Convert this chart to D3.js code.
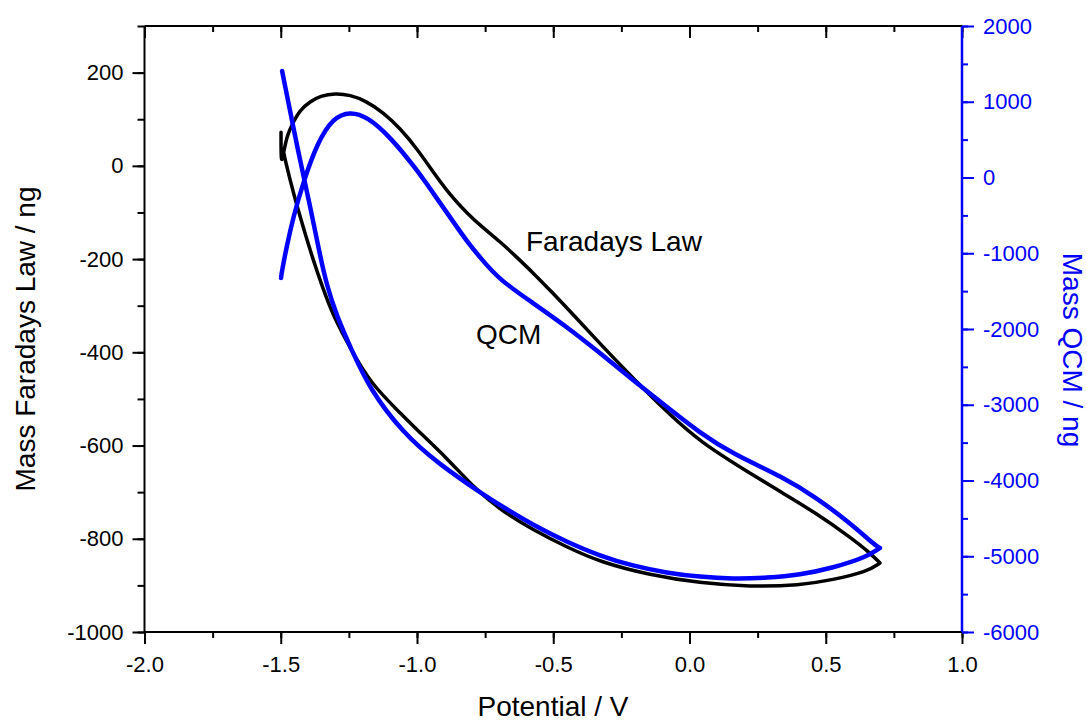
<!DOCTYPE html>
<html>
<head>
<meta charset="utf-8">
<script src="https://cdn.jsdelivr.net/npm/d3@7"></script>
<style>
  body { margin: 0; background: #fff; }
  svg { display: block; font-family: "Liberation Sans", Arial, sans-serif; }
</style>
</head>
<body>
<svg id="chart" width="1087" height="722"></svg>
<script>
// Faradays law mass (left axis), potential in V
const faradayV = [-1.499, -1.499, -1.499, -1.491, -1.477, -1.454, -1.429, -1.392, -1.355, -1.30, -1.245, -1.190,
  -1.124, -1.061, -0.999, -0.941, -0.879, -0.816, -0.758, -0.696, -0.634, -0.575, -0.513, -0.422,
  -0.328, -0.208, -0.083, 0.038, 0.221, 0.342, 0.467, 0.588, 0.662, 0.699, 0.699, 0.699,
  0.651, 0.526, 0.405, 0.222, 0.038, -0.145, -0.328, -0.450, -0.574, -0.684, -0.780, -0.890,
  -0.999, -1.050, -1.172, -1.245, -1.307, -1.348, -1.381, -1.418, -1.454, -1.484, -1.491];
const faradayMass = [72, 72, 2, 23, 66, 94, 120, 138, 150, 156, 152, 140,
  115, 80, 36, -13, -62, -102, -133, -162, -196, -229, -266, -322,
  -382, -455, -528, -592, -659, -702, -746, -796, -830, -852, -852, -852,
  -871, -888, -900, -903, -895, -878, -850, -818, -781, -742, -697, -627,
  -567, -537, -466, -391, -323, -258, -202, -131, -58, 13, 34];

// QCM mass (right axis)
const qcmV = [-1.499, -1.499, -1.495, -1.477, -1.454, -1.418, -1.366, -1.308, -1.245, -1.183, -1.099, -1.000,
  -0.941, -0.879, -0.816, -0.758, -0.696, -0.575, -0.450, -0.329, -0.208, -0.083, 0.038, 0.159,
  0.342, 0.467, 0.589, 0.688, 0.699, 0.699, 0.699,
  0.651, 0.526, 0.405, 0.284, 0.159, 0.038, -0.083, -0.208, -0.328, -0.450, -0.575, -0.696,
  -0.744, -0.926, -1.051, -1.172, -1.245, -1.293, -1.332, -1.360, -1.389, -1.430, -1.495, -1.495];
const qcmMass = [-1326, -1326, -1221, -891, -521, -70, 458, 790, 870, 802, 540, 100,
  -204, -521, -850, -1100, -1353, -1656, -1973, -2316, -2673, -3029, -3372, -3650,
  -3953, -4230, -4560, -4877, -4890, -4890, -4890,
  -5009, -5154, -5247, -5286, -5300, -5273, -5220, -5128, -4996, -4811, -4587, -4323,
  -4217, -3768, -3372, -2805, -2237, -1841, -1419, -957, -429, 231, 1406, 1406];

const xTicks = [-2.0, -1.5, -1.0, -0.5, 0.0, 0.5, 1.0];
const leftTicks = [-1000, -800, -600, -400, -200, 0, 200];
const rightTicks = [-6000, -5000, -4000, -3000, -2000, -1000, 0, 1000, 2000];

const BLUE = "#0000ff";
const plot = { left: 144.5, right: 962, top: 26, bottom: 632 };

const svg = d3.select("#chart");

const x = d3.scaleLinear().domain([-2, 1]).range([plot.left, plot.right]);
const yL = d3.scaleLinear().domain([-1000, 300]).range([plot.bottom, plot.top]);
const yR = d3.scaleLinear().domain([-6000, 2000]).range([plot.bottom, plot.top]);

// minor ticks every half step
const xMinor = d3.range(-2, 1.0001, 0.25);
const leftMinor = d3.range(-1000, 300.1, 100);
const rightMinor = d3.range(-6000, 2000.1, 500);

// plain hyphen instead of the unicode minus d3 uses
const hyphen = f => d => f(d).replace("\u2212", "-");

function styleAxis(g, color) {
  g.select(".domain").remove();
  g.selectAll("line").attr("stroke", color).attr("stroke-width", 2);
  g.selectAll("text").attr("fill", color).style("font-size", "22px");
}

// bottom axis
const gB = svg.append("g").attr("transform", `translate(0,${plot.bottom})`);
gB.append("g").call(d3.axisBottom(x).tickValues(xMinor).tickSize(6).tickFormat(""))
  .call(g => styleAxis(g, "#000"));
gB.append("g").call(d3.axisBottom(x).tickValues(xTicks).tickSize(12).tickPadding(12).tickFormat(hyphen(d3.format(".1f"))))
  .call(g => styleAxis(g, "#000"));

// top axis (inward ticks)
const gT = svg.append("g").attr("transform", `translate(0,${plot.top})`);
gT.append("g").call(d3.axisBottom(x).tickValues(xMinor).tickSize(6).tickFormat(""))
  .call(g => styleAxis(g, "#000"));
gT.append("g").call(d3.axisBottom(x).tickValues(xTicks).tickSize(12).tickFormat(""))
  .call(g => styleAxis(g, "#000"));

// left axis
const gL = svg.append("g").attr("transform", `translate(${plot.left},0)`);
gL.append("g").call(d3.axisLeft(yL).tickValues(leftMinor).tickSize(7).tickFormat(""))
  .call(g => styleAxis(g, "#000"));
gL.append("g").call(d3.axisLeft(yL).tickValues(leftTicks).tickSize(12).tickPadding(9).tickFormat(hyphen(d3.format("d"))))
  .call(g => styleAxis(g, "#000"));

// right axis
const gR = svg.append("g").attr("transform", `translate(${plot.right},0)`);
gR.append("g").call(d3.axisRight(yR).tickValues(rightMinor).tickSize(6).tickFormat(""))
  .call(g => styleAxis(g, BLUE));
gR.append("g").call(d3.axisRight(yR).tickValues(rightTicks).tickSize(12).tickPadding(9).tickFormat(hyphen(d3.format("d"))))
  .call(g => styleAxis(g, BLUE));

// frame lines
svg.append("line").attr("x1", plot.left).attr("x2", plot.right).attr("y1", plot.top).attr("y2", plot.top)
  .attr("stroke", "#000").attr("stroke-width", 2);
svg.append("line").attr("x1", plot.left).attr("x2", plot.right).attr("y1", plot.bottom).attr("y2", plot.bottom)
  .attr("stroke", "#000").attr("stroke-width", 2);
svg.append("line").attr("x1", plot.left).attr("x2", plot.left).attr("y1", plot.top).attr("y2", plot.bottom)
  .attr("stroke", "#000").attr("stroke-width", 2);
svg.append("line").attr("x1", plot.right).attr("x2", plot.right).attr("y1", plot.top).attr("y2", plot.bottom)
  .attr("stroke", BLUE).attr("stroke-width", 2.5);

// curves (repeated points keep the sweep reversals sharp under basis smoothing)
const faraday = faradayV.map((v, i) => [v, faradayMass[i]]);
const qcm = qcmV.map((v, i) => [v, qcmMass[i]]);

const lineL = d3.line().x(d => x(d[0])).y(d => yL(d[1])).curve(d3.curveBasis);
const lineR = d3.line().x(d => x(d[0])).y(d => yR(d[1])).curve(d3.curveBasis);

svg.append("path").datum(faraday).attr("d", lineL)
  .attr("fill", "none").attr("stroke", "#000").attr("stroke-width", 3.5)
  .attr("stroke-linejoin", "round").attr("stroke-linecap", "round");

svg.append("path").datum(qcm).attr("d", lineR)
  .attr("fill", "none").attr("stroke", BLUE).attr("stroke-width", 4.5)
  .attr("stroke-linejoin", "round").attr("stroke-linecap", "round");

// annotations
svg.append("text").attr("x", 526).attr("y", 251).style("font-size", "28px").text("Faradays Law");
svg.append("text").attr("x", 476).attr("y", 344).style("font-size", "28px").text("QCM");

// axis titles
svg.append("text").attr("x", 553).attr("y", 716).attr("text-anchor", "middle")
  .style("font-size", "28px").text("Potential / V");
svg.append("text").attr("transform", "translate(35,339) rotate(-90)").attr("text-anchor", "middle")
  .style("font-size", "28px").text("Mass Faradays Law / ng");
svg.append("text").attr("transform", "translate(1063,350) rotate(90)").attr("text-anchor", "middle")
  .attr("fill", BLUE).style("font-size", "28px").text("Mass QCM / ng");
</script>
</body>
</html>
